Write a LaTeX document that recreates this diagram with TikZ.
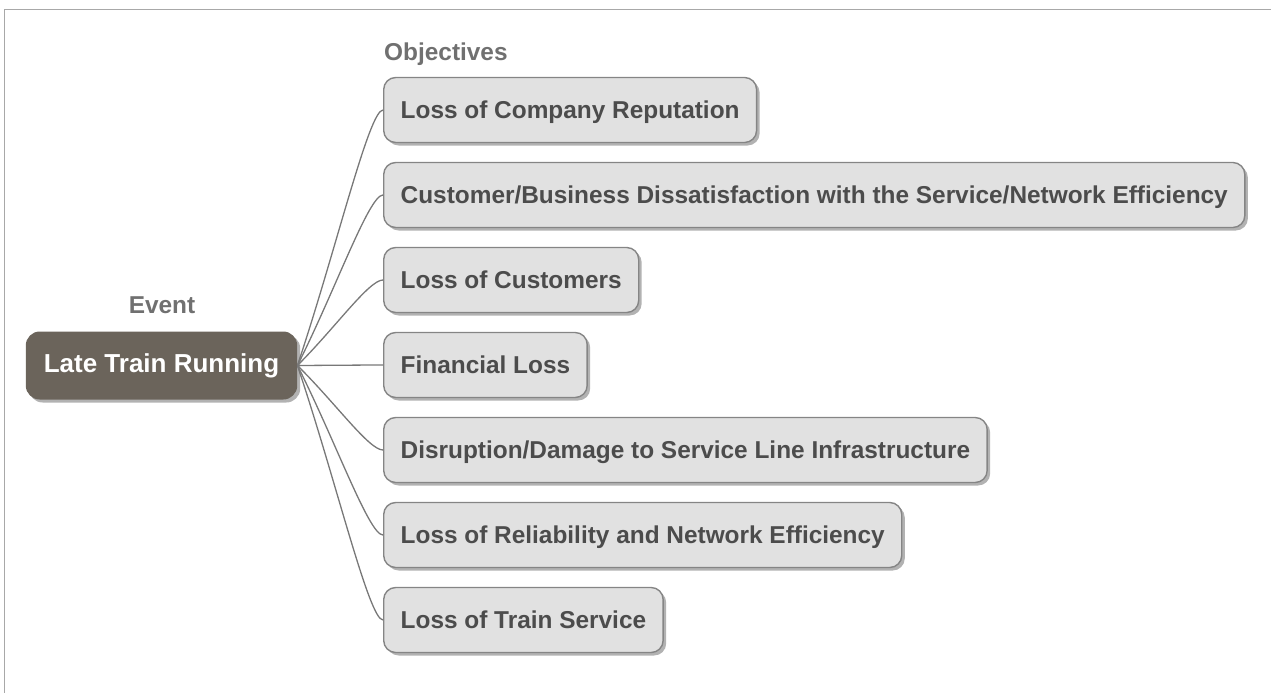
\documentclass[tikz,border=0pt]{standalone}
\usepackage{fontspec}
\setmainfont{Liberation Sans}
\usetikzlibrary{calc,positioning,shadows}
\definecolor{evfill}{HTML}{6B645B}
\definecolor{boxfill}{HTML}{E1E1E1}
\definecolor{boxline}{HTML}{858585}
\definecolor{boxtext}{HTML}{4C4C4C}
\definecolor{lbltext}{HTML}{707070}
\definecolor{linkcol}{HTML}{787878}
\definecolor{framecol}{HTML}{A8A8A8}
\begin{document}
\begin{tikzpicture}[x=1pt,y=-1pt,
    obj/.style={draw=boxline,line width=1.4pt,fill=boxfill,rounded corners=12pt,
      minimum height=65pt,inner xsep=17pt,text height=17.4pt,text depth=0pt,anchor=west,
      text=boxtext,font=\fontsize{24.4}{28}\selectfont\bfseries,
      drop shadow={shadow xshift=3pt,shadow yshift=-3pt,fill=black,opacity=.3}},
    ev/.style={fill=evfill,rounded corners=14pt,minimum height=68pt,inner xsep=18pt,
      text height=18.6pt,text depth=5pt,text=white,font=\fontsize{26}{30}\selectfont\bfseries,
      drop shadow={shadow xshift=3pt,shadow yshift=-3pt,fill=black,opacity=.3}},
    lbl/.style={inner sep=0pt,text=lbltext,font=\fontsize{24.4}{28}\selectfont\bfseries},
    link/.style={draw=linkcol,line width=1.3pt}]
  \useasboundingbox (0,0) rectangle (1271,693);
  \draw[framecol,line width=1.5pt] (4.5,693) -- (4.5,9.5) -- (1271,9.5);

  \node[lbl,anchor=base west] (objlbl) at (384,60) {Objectives};
  \node[lbl,anchor=base] (evlbl) at (162,313) {Event};

  \node[ev] (ev) at (161.5,365.5) {Late Train Running};

  \node[obj] (o1) at (383,110) {Loss of Company Reputation};
  \node[obj] (o2) at (383,195) {Customer/Business Dissatisfaction with the Service/Network Efficiency};
  \node[obj] (o3) at (383,280) {Loss of Customers};
  \node[obj] (o4) at (383,365) {Financial Loss};
  \node[obj] (o5) at (383,450) {Disruption/Damage to Service Line Infrastructure};
  \node[obj] (o6) at (383,535) {Loss of Reliability and Network Efficiency};
  \node[obj] (o7) at (383,620) {Loss of Train Service};

  \foreach \i in {1,...,7}
    \draw[link] (ev.east) .. controls ($(ev.east)!.45!(o\i.west)$) and ($(o\i.west)+(-14,0)$) .. (o\i.west);
\end{tikzpicture}
\end{document}
